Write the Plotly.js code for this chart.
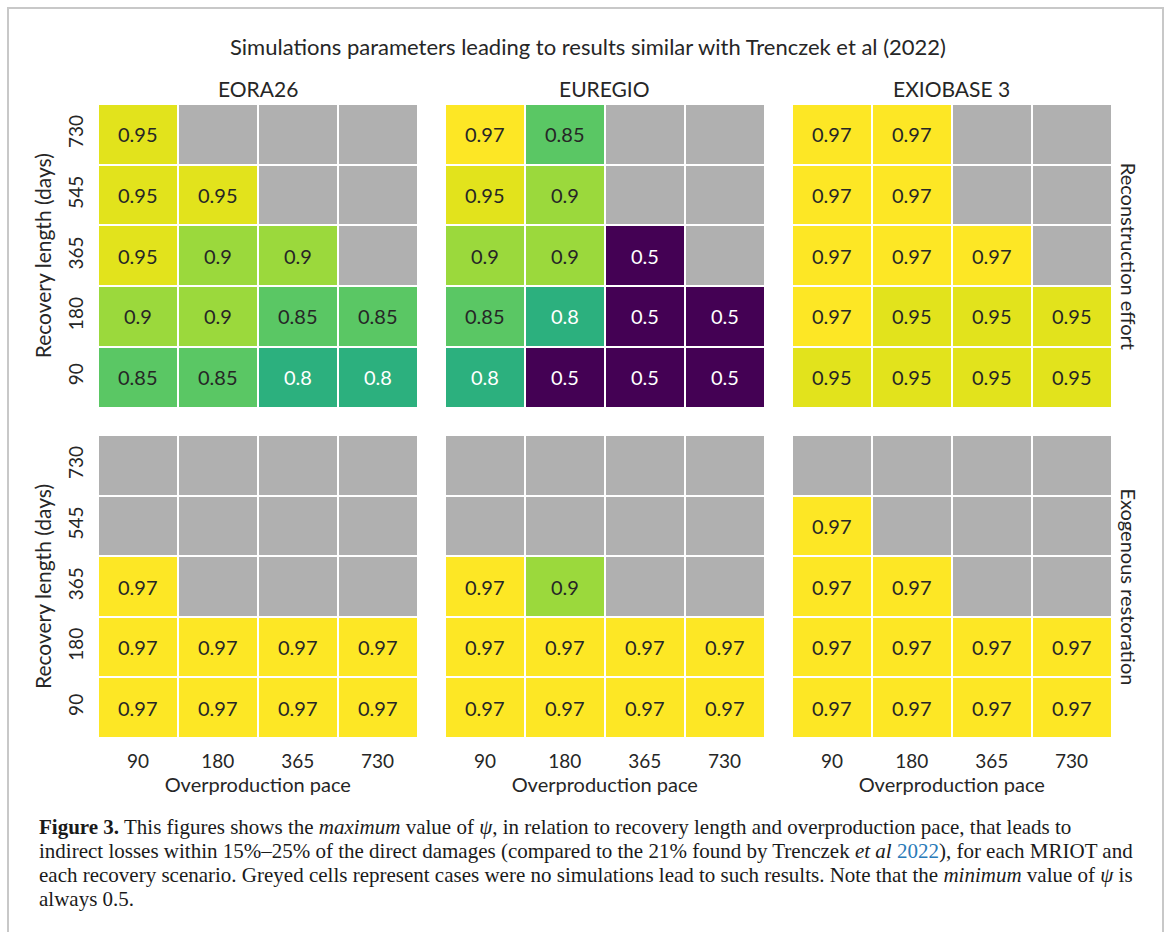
<!DOCTYPE html>
<html>
<head>
<meta charset="utf-8">
<script src="https://cdn.plot.ly/plotly-3.0.1.min.js"></script>
<style>body{margin:0;background:#fff}#chart{width:1168px;height:932px}</style>
</head>
<body>
<div id="chart"></div>
<script>
// ---- data ----
const paceLabels = ['90', '180', '365', '730'];            // x: overproduction pace
const lengthLabels = ['730', '545', '365', '180', '90'];   // y: recovery length (top to bottom)
const mriots = ['EORA26', 'EUREGIO', 'EXIOBASE 3'];
const scenarios = ['Reconstruction effort', 'Exogenous restoration'];

const eoraRecon = [
  [0.95, null, null, null],
  [0.95, 0.95, null, null],
  [0.95, 0.9, 0.9, null],
  [0.9, 0.9, 0.85, 0.85],
  [0.85, 0.85, 0.8, 0.8]
];
const euregioRecon = [
  [0.97, 0.85, null, null],
  [0.95, 0.9, null, null],
  [0.9, 0.9, 0.5, null],
  [0.85, 0.8, 0.5, 0.5],
  [0.8, 0.5, 0.5, 0.5]
];
const exioRecon = [
  [0.97, 0.97, null, null],
  [0.97, 0.97, null, null],
  [0.97, 0.97, 0.97, null],
  [0.97, 0.95, 0.95, 0.95],
  [0.95, 0.95, 0.95, 0.95]
];
const eoraExo = [
  [null, null, null, null],
  [null, null, null, null],
  [0.97, null, null, null],
  [0.97, 0.97, 0.97, 0.97],
  [0.97, 0.97, 0.97, 0.97]
];
const euregioExo = [
  [null, null, null, null],
  [null, null, null, null],
  [0.97, 0.9, null, null],
  [0.97, 0.97, 0.97, 0.97],
  [0.97, 0.97, 0.97, 0.97]
];
const exioExo = [
  [null, null, null, null],
  [0.97, null, null, null],
  [0.97, 0.97, null, null],
  [0.97, 0.97, 0.97, 0.97],
  [0.97, 0.97, 0.97, 0.97]
];

const W = 1168, H = 932;
const fx = v => v / W;
const fy = v => 1 - v / H;
const colX = [[98, 417.5], [445, 764.5], [792, 1111.5]];
const rowY = [[104, 407.5], [435, 738]];
const grid = [[eoraRecon, euregioRecon, exioRecon], [eoraExo, euregioExo, exioExo]];

const sansFont = 'Lato, "Noto Sans", sans-serif';
const ink = '#262626';
const traces = [];
const annotations = [];
const layout = {
  width: W, height: H,
  margin: {l: 0, r: 0, t: 0, b: 0},
  paper_bgcolor: '#ffffff',
  plot_bgcolor: '#ffffff',
  showlegend: false,
  font: {family: sansFont, color: ink},
  shapes: [{
    type: 'rect', xref: 'paper', yref: 'paper',
    x0: fx(8), x1: fx(1163), y0: fy(940), y1: fy(8),
    line: {color: '#c8c8c8', width: 2}, fillcolor: 'rgba(0,0,0,0)'
  }]
};

let k = 0;
for (let r = 0; r < 2; r++) {
  for (let c = 0; c < 3; c++) {
    k++;
    const sfx = k === 1 ? '' : String(k);
    const xa = 'x' + sfx, ya = 'y' + sfx;
    const z = grid[r][c];
    const mask = z.map(row => row.map(v => v === null ? 1 : null));
    traces.push({
      type: 'heatmap', x: paceLabels, y: lengthLabels, z: mask,
      xaxis: xa, yaxis: ya, xgap: 2, ygap: 2,
      colorscale: [[0, '#b0b0b0'], [1, '#b0b0b0']], showscale: false, hoverinfo: 'skip'
    });
    traces.push({
      type: 'heatmap', x: paceLabels, y: lengthLabels, z: z,
      xaxis: xa, yaxis: ya, xgap: 2, ygap: 2,
      colorscale: 'Viridis', zmin: 0.5, zmax: 0.97, showscale: false
    });
    // cell labels: positions are category indices on the category axes
    z.forEach((row, i) => row.forEach((v, j) => {
      if (v === null) return;
      annotations.push({
        xref: xa, yref: ya, x: j, y: i, xanchor: 'center', yanchor: 'middle',
        text: String(v), showarrow: false,
        font: {family: sansFont, size: 20, color: v <= 0.8 ? '#ffffff' : ink}
      });
    }));
    const xax = {
      domain: [fx(colX[c][0]), fx(colX[c][1])], anchor: ya,
      type: 'category', showgrid: false, zeroline: false, showline: false,
      ticks: '', showticklabels: r === 1, ticklabelstandoff: 10,
      tickfont: {size: 19, color: ink}
    };
    if (r === 1) xax.title = {text: 'Overproduction pace', font: {size: 20, color: ink}, standoff: 4};
    const yax = {
      domain: [fy(rowY[r][1]), fy(rowY[r][0])], anchor: xa,
      type: 'category', autorange: 'reversed', showgrid: false, zeroline: false, showline: false,
      ticks: '', showticklabels: c === 0, tickangle: -90, ticklabelstandoff: 10,
      tickfont: {size: 19, color: ink}
    };
    if (c === 0) yax.title = {text: 'Recovery length (days)', font: {size: 21, color: ink}, standoff: 6};
    layout['xaxis' + sfx] = xax;
    layout['yaxis' + sfx] = yax;
  }
}

mriots.forEach((m, c) => annotations.push({
  xref: 'paper', yref: 'paper', x: fx((colX[c][0] + colX[c][1]) / 2), y: fy(89),
  xanchor: 'center', yanchor: 'middle',
  text: m, showarrow: false, font: {family: sansFont, size: 21, color: ink}
}));
scenarios.forEach((s, r) => annotations.push({
  xref: 'paper', yref: 'paper', x: fx(1129), y: fy((rowY[r][0] + rowY[r][1]) / 2),
  xanchor: 'center', yanchor: 'middle',
  text: s, textangle: 90, showarrow: false, font: {family: sansFont, size: 20, color: ink}
}));
annotations.push({
  xref: 'paper', yref: 'paper', x: fx(588), y: fy(46), xanchor: 'center', yanchor: 'middle',
  text: 'Simulations parameters leading to results similar with Trenczek et al (2022)',
  showarrow: false, font: {family: sansFont, size: 22, color: ink}
});
const capFont = {family: '"Liberation Serif", "DejaVu Serif", serif', size: 21, color: '#1a1a1a'};
const captionLines = [
  '<b>Figure 3.</b> This figures shows the <i>maximum</i> value of <i>ψ</i>, in relation to recovery length and overproduction pace, that leads to',
  'indirect losses within 15%–25% of the direct damages (compared to the 21% found by Trenczek <i>et al</i> <span style="color:#2a7ab8">2022</span>), for each MRIOT and',
  'each recovery scenario. Greyed cells represent cases were no simulations lead to such results. Note that the <i>minimum</i> value of <i>ψ</i> is',
  'always 0.5.'
];
const capY = [827, 851, 875, 899];
captionLines.forEach((t, i) => annotations.push({
  xref: 'paper', yref: 'paper', x: fx(37), y: fy(capY[i]), xanchor: 'left', yanchor: 'middle',
  text: t, showarrow: false, align: 'left', font: capFont
}));

layout.annotations = annotations;
Plotly.newPlot('chart', traces, layout, {displayModeBar: false, staticPlot: true});
</script>
</body>
</html>
